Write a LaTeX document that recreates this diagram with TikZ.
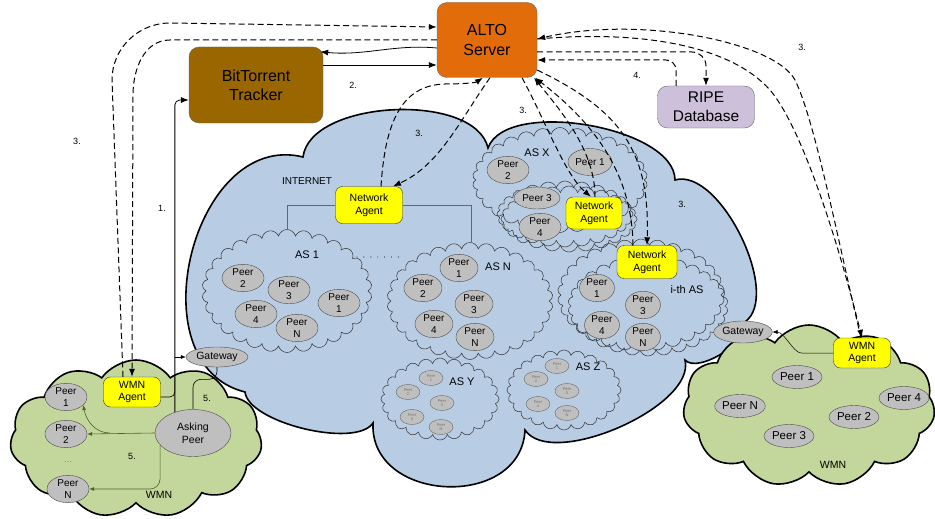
\documentclass[tikz,border=0pt]{standalone}
\usepackage{fontspec}
\setmainfont{Liberation Sans}
\usepackage{xcolor}
\usetikzlibrary{shapes, arrows.meta, positioning}

\definecolor{azulnube}{RGB}{184,204,228}
\definecolor{verdewmn}{RGB}{195,214,155}
\definecolor{grispeer}{RGB}{191,191,191}
\definecolor{naranja}{RGB}{227,108,10}
\definecolor{marron}{RGB}{153,102,0}
\definecolor{lila}{RGB}{204,192,218}
\definecolor{oliva}{RGB}{79,98,40}
\definecolor{amarillo}{RGB}{255,255,0}

\newcommand{\tam}[2]{\fontsize{#1}{#2}\selectfont}

\tikzset{
  caja/.style={draw=black!60, rounded corners=10pt, align=center, inner sep=0pt},
  agente/.style={draw=black!80, fill=amarillo, rounded corners=7pt, align=center,
    font=\tam{10.5}{13}, minimum width=58pt, minimum height=32pt, inner sep=0pt},
  peer/.style={ellipse, draw=black!70, fill=grispeer, align=center, font=\tam{10}{12.5},
    minimum width=42pt, minimum height=27pt, inner sep=0pt},
  peerm/.style={peer, minimum width=38pt, minimum height=25pt},
  peerw/.style={peer, font=\tam{11.5}{13}, minimum width=50pt, minimum height=23pt},
  peerch/.style={ellipse, draw=black!60, fill=grispeer, align=center, font=\tam{4}{4.5},
    text=black!55, minimum width=24pt, minimum height=15pt, inner sep=0pt},
  nubeas/.style={cloud, cloud puffs=30, cloud puff arc=150, cloud ignores aspect,
    draw=black!80, line width=0.5pt},
  nubewmn/.style={cloud, cloud puffs=11, cloud puff arc=110, cloud ignores aspect,
    draw=black, line width=1.6pt, fill=verdewmn},
  rayas/.style={line width=1pt, dash pattern=on 6pt off 3.5pt},
  punta/.style={-{Latex[length=8pt,width=6pt]}},
  solida/.style={line width=0.8pt, -{Latex[length=8pt,width=6pt]}},
  fina/.style={line width=0.5pt, -{Latex[length=5pt,width=4pt]}},
  olivo/.style={draw=oliva, line width=0.6pt, -{Latex[length=5pt,width=4pt]}},
  etiq/.style={font=\tam{9}{10}, inner sep=0pt},
  etiqas/.style={font=\tam{11}{12}, inner sep=0pt},
}

\begin{document}
\begin{tikzpicture}[x=1pt, y=-1pt]
  \useasboundingbox (0,0) rectangle (935,519);
  % Nube de Internet
  \draw[line width=1.6pt, fill=azulnube]
    (245,392) to[bend left=90, looseness=1.2] (303,157)
    to[bend left=80, looseness=0.8] (488,148)
    to[bend left=80, looseness=0.72] (675,180)
    to[bend left=80, looseness=0.75] (745,322)
    to[bend left=80, looseness=0.7] (685,360)
    to[bend left=80, looseness=0.7] (525,430)
    to[bend left=90, looseness=1.35] (373,423)
    to[bend left=70, looseness=0.6] (245,392) -- cycle;
  \node[etiq, font=\tam{10}{12}] (internet) at (307,181) {INTERNET};

  % Nubes de los AS
  \node[nubeas, minimum width=170pt, minimum height=123pt] (as1) at (287,291) {};
  \node[nubeas, minimum width=166pt, minimum height=117pt] (asn) at (470,301) {};
  \node[nubeas, minimum width=175pt, minimum height=105pt] (asx) at (560,180) {};
  \node[nubeas, cloud puffs=24, minimum width=136pt, minimum height=66pt] (asxa) at (565,214) {};
  \node[nubeas, cloud puffs=24, minimum width=136pt, minimum height=66pt] (asxb) at (569,219) {};
  \node[nubeas, minimum width=167pt, minimum height=112pt] (ash) at (641,295) {};
  \node[nubeas, minimum width=160pt, minimum height=100pt] (ashb) at (648,306) {};
  \node[nubeas, cloud puffs=24, minimum width=118pt, minimum height=82pt] (asy) at (440,399) {};
  \node[nubeas, cloud puffs=24, minimum width=114pt, minimum height=80pt] (asz) at (564,390) {};

  % Etiquetas de los AS
  \node[etiqas] (l-as1) at (307,255) {AS 1};
  \node[etiqas] (l-asn) at (498,267) {AS N};
  \node[etiqas] (l-asx) at (537,153) {AS X};
  \node[etiqas] (l-ash) at (687,290) {i-th AS};
  \node[etiqas] (l-asy) at (462,382) {AS Y};
  \node[etiqas] (l-asz) at (588,367) {AS Z};
  \draw[line width=0.9pt, dash pattern=on 0.9pt off 6pt] ([xshift=-12pt,yshift=34pt]as1.east) -- ([xshift=13pt,yshift=44pt]asn.west);

  % Peers del AS 1
  \node[peer] (p12) at (243,278) {Peer\\2};
  \node[peer] (p13) at (289,290) {Peer\\3};
  \node[peer] (p11) at (339,303) {Peer\\1};
  \node[peer] (p14) at (256,314) {Peer\\4};
  \node[peer] (p1n) at (297,328) {Peer\\N};
  % Peers del AS N
  \node[peerm] (pn1) at (459,268) {Peer\\1};
  \node[peerm] (pn2) at (423,288) {Peer\\2};
  \node[peerm] (pn3) at (474,304) {Peer\\3};
  \node[peerm] (pn4) at (434,324) {Peer\\4};
  \node[peerm] (pnn) at (475,337) {Peer\\N};
  % Peers del AS X
  \node[peer] (px2) at (508,170) {Peer\\2};
  \node[peer, minimum width=44pt, minimum height=27pt] (px1) at (590,162) {Peer 1};
  \node[peer, minimum width=46pt, minimum height=22pt] (px3) at (537,198) {Peer 3};
  \node[peer] (px4) at (540,227) {Peer\\4};
  % Peers del i-th AS
  \node[peerm, minimum width=35pt, minimum height=24pt] (ph1) at (597,288) {Peer\\1};
  \node[peerm, minimum width=35pt, minimum height=24pt] (ph3) at (643,305) {Peer\\3};
  \node[peerm, minimum width=35pt, minimum height=24pt] (ph4) at (602,325) {Peer\\4};
  \node[peerm, minimum width=35pt, minimum height=24pt] (phn) at (643,337) {Peer\\N};
  % Peers de AS Y y AS Z
  \node[peerch] (sy1) at (431,378) {Peer\\1};
  \node[peerch] (sy2) at (408,392) {Peer\\2};
  \node[peerch] (sy3) at (442,403) {Peer\\3};
  \node[peerch] (sy4) at (412,417) {Peer\\4};
  \node[peerch] (syn) at (441,427) {Peer\\N};
  \node[peerch] (sz1) at (557,366) {Peer\\1};
  \node[peerch] (sz2) at (536,379) {Peer\\2};
  \node[peerch] (sz3) at (567,391) {Peer\\3};
  \node[peerch] (sz4) at (538,404) {Peer\\4};
  \node[peerch] (szn) at (567,413) {Peer\\N};

  % Agentes de red
  \node[agente, minimum width=67pt, minimum height=37pt] (nai) at (369,205) {Network\\Agent};
  \draw[gray!80!black, line width=0.6pt] (nai.west) -| (as1.north);
  \draw[gray!80!black, line width=0.6pt] (nai.east) -| ([xshift=1pt]asn.north);
  \node[agente, minimum width=56pt] (nax) at (594,213) {Network\\Agent};
  \node[agente, minimum width=60pt, minimum height=33pt] (nah) at (647,262) {Network\\Agent};

  % WMN izquierda
  \node[nubewmn, minimum width=252pt, minimum height=158pt] (nubel) at (136,439) {};
  \node[etiq, font=\tam{10.5}{12}] (l-wmnl) at (159,495) {WMN};
  \node[agente, minimum width=57pt, minimum height=30pt, font=\tam{10.5}{12.5}] (wmnl) at (132,392) {WMN\\Agent};
  \node[peer] (wl1) at (66,397) {Peer\\1};
  \node[peer] (wl2) at (66,434) {Peer\\2};
  \node[etiq, text=black!50] (puntos) at (68,462) {...};
  \node[peer] (wln) at (68,489) {Peer\\N};
  \node[peer, font=\tam{10.5}{13}, minimum width=76pt, minimum height=47pt] (ask) at (193,433) {Asking\\Peer};
  \node[peer, font=\tam{10.5}{12}, minimum width=62pt, minimum height=20pt] (gwl) at (217,357) {Gateway};

  % WMN derecha
  \node[nubewmn, minimum width=252pt, minimum height=162pt] (nuber) at (809,406) {};
  \node[etiq, font=\tam{10.5}{12}] (l-wmnr) at (833,465) {WMN};
  \node[peer, font=\tam{10.5}{12}, minimum width=58pt, minimum height=22pt] (gwr) at (743,332) {Gateway};
  \node[agente, minimum width=57pt, minimum height=30pt, font=\tam{10.5}{12.5}] (wmnr) at (862,353) {WMN\\Agent};
  \node[peerw] (wr1) at (797,377) {Peer 1};
  \node[peerw] (wrn) at (740,406) {Peer N};
  \node[peerw] (wr4) at (904,398) {Peer 4};
  \node[peerw] (wr2) at (854,417) {Peer 2};
  \node[peerw] (wr3) at (789,436) {Peer 3};

  % Servidores
  \node[caja, fill=naranja, font=\tam{16}{20}, minimum width=100pt, minimum height=75pt] (alto) at (487,40) {ALTO\\Server};
  \node[caja, fill=marron, font=\tam{16}{19}, minimum width=134pt, minimum height=76pt] (tracker) at (256,85) {BitTorrent\\Tracker};
  \node[caja, fill=lila, font=\tam{15.5}{19}, minimum width=97pt, minimum height=42pt] (ripe) at (706,107) {RIPE\\Database};

  % Enlaces de la WMN izquierda
  \draw[solida, rounded corners=5pt] (ask.131) |- ([yshift=-15pt]tracker.west);
  \draw[line width=0.6pt, rounded corners=5pt] ([yshift=-5pt]wmnl.east) -| (ask.131 |- wmnl.north);
  \draw[fina] (ask.131 |- gwl.west) -- (gwl.west);
  \draw[line width=0.6pt, rounded corners=8pt] (ask.north) -- ++(0,-30) -| (gwl.south);
  \draw[olivo] (ask.west) -- (wl2.east);
  \draw[olivo] ([xshift=-45pt]ask.west) to[out=180, in=-80] (wl1.-25);
  \draw[olivo, rounded corners=10pt] (ask.200) |- (wln.east);
  % Enlace de la WMN derecha
  \draw[fina] (wmnr.west) -- ++(-32,0) .. controls +(-8,0) and +(12,0) .. (gwr.east);

  % Tracker y ALTO
  \draw[solida] ([yshift=-8pt]alto.west) .. controls (395,44) and (365,56) .. ([xshift=-3pt,yshift=-5pt]tracker.north east);
  \draw[solida] ([yshift=20pt]tracker.east) -- ([yshift=20pt]tracker.east -| alto.west);

  % Consultas ALTO (3.) hacia la WMN izquierda
  \draw[rayas, punta] ([xshift=-9pt]wmnl.north) -- (112,80) to[out=90, in=180] (170,23) -- ([yshift=13pt]alto.west);
  \draw[rayas, punta] (alto.west) -- (170,40) to[out=180, in=90] (133,95) -- (wmnl.north);
  % hacia la WMN derecha
  \draw[rayas, punta] ([xshift=-1pt]wmnr.north) .. controls (840,250) and (815,120) .. (795,80) .. controls (775,42) and (640,15) .. ([yshift=1pt]alto.east);
  \draw[rayas, punta] ([yshift=1pt]alto.east) .. controls (640,30) and (730,45) .. (770,90) .. controls (800,125) and (835,230) .. (wmnr.north);
  % hacia la base de datos RIPE (4.)
  \draw[rayas, punta, rounded corners=14pt] ([yshift=-12pt]alto.east) -| (ripe.north);
  \draw[rayas, punta, rounded corners=10pt] ([xshift=-30pt]ripe.north) |- ([yshift=-20pt]alto.east);
  % hacia los agentes de red
  \draw[rayas, punta] ([xshift=12pt]nai.north) .. controls (385,125) and (400,85) .. (445,84) .. controls (460,84) and (475,83) .. ([xshift=-4pt]alto.south);
  \draw[rayas, punta] ([xshift=3pt]alto.south) .. controls (460,120) and (440,165) .. ([xshift=24pt]nai.north);
  \draw[rayas, punta] ([xshift=35pt]alto.south) .. controls (545,120) and (565,175) .. ([xshift=-3pt]nax.north);
  \draw[rayas, punta] ([xshift=1pt]nax.north) .. controls (595,150) and (560,110) .. ([xshift=47pt]alto.south);
  \draw[rayas, punta] ([xshift=-14pt]nah.north) .. controls (632,170) and (590,120) .. ([xshift=48pt]alto.south);
  \draw[rayas, punta] ([yshift=-30pt]alto.east) .. controls (620,110) and (650,150) .. (nah.north);

  % Numeros de los pasos
  \node[etiq] (n1) at (162,208) {1.};
  \node[etiq] (n2) at (353,85) {2.};
  \node[etiq] (n3a) at (77,141) {3.};
  \node[etiq] (n3b) at (419,133) {3.};
  \node[etiq] (n3c) at (523,110) {3.};
  \node[etiq] (n3d) at (682,204) {3.};
  \node[etiq] (n3e) at (802,47) {3.};
  \node[etiq] (n4) at (637,75) {4.};
  \node[etiq] (n5a) at (207,398) {5.};
  \node[etiq] (n5b) at (132,456) {5.};
\end{tikzpicture}
\end{document}
